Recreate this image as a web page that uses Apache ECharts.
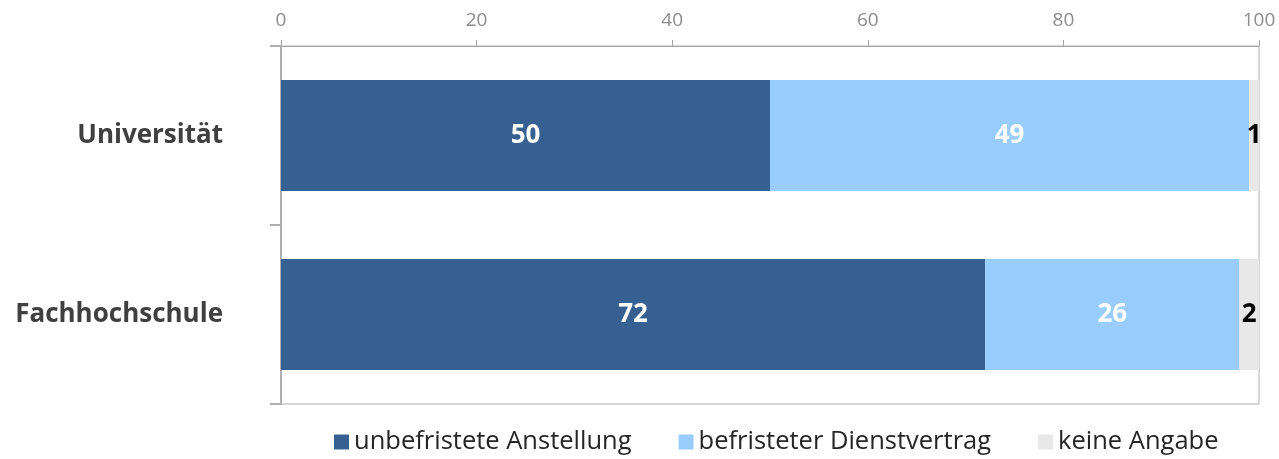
<!DOCTYPE html>
<html>
<head>
<meta charset="utf-8">
<script src="https://cdn.jsdelivr.net/npm/echarts@6/dist/echarts.min.js"></script>
<style>
html,body{margin:0;padding:0;background:#fff;}
#chart{width:1279px;height:459px;}
</style>
</head>
<body>
<div id="chart"></div>
<script>
const categories = ['Universität', 'Fachhochschule'];
const seriesNames = ['unbefristete Anstellung', 'befristeter Dienstvertrag', 'keine Angabe'];
const unbefristet = [50, 72];
const befristet = [49, 26];
const keineAngabe = [1, 2];
const xTicks = [0, 20, 40, 60, 80, 100];

const colors = ['#366092', '#99CCFF', '#E8E8E8'];
const labelColors = ['#ffffff', '#ffffff', '#000000'];
const values = [unbefristet, befristet, keineAngabe];
const FONT = '"Open Sans", "Liberation Sans", sans-serif';

const chart = echarts.init(document.getElementById('chart'), null, {renderer: 'canvas'});
chart.setOption({
  animation: false,
  textStyle: {fontFamily: FONT},
  grid: {left: 281, right: 20, top: 46, bottom: 55, show: true, borderColor: '#B0B0B0', borderWidth: 1},
  legend: {
    top: 424,
    left: 329,
    itemWidth: 15,
    itemHeight: 15,
    itemGap: 47,
    icon: 'rect',
    textStyle: {fontSize: 25.5, color: '#262626', fontFamily: FONT},
    data: seriesNames
  },
  xAxis: {
    type: 'value',
    position: 'top',
    min: xTicks[0],
    max: xTicks[xTicks.length - 1],
    interval: 20,
    axisLine: {show: true, lineStyle: {color: '#A6A6A6', width: 1}},
    axisTick: {show: true, length: 6, lineStyle: {color: '#A6A6A6'}},
    splitLine: {show: false},
    axisLabel: {color: '#8C8C8C', fontSize: 19, margin: 16, fontFamily: FONT}
  },
  yAxis: {
    type: 'category',
    inverse: true,
    data: categories,
    axisLine: {show: true, lineStyle: {color: '#B0B0B0', width: 2}},
    axisTick: {show: true, length: 11, lineStyle: {color: '#B0B0B0', width: 2}},
    axisLabel: {color: '#404040', fontSize: 26, fontWeight: 'bold', margin: 58, fontFamily: FONT}
  },
  series: seriesNames.map((name, i) => ({
    name: name,
    type: 'bar',
    stack: 'total',
    barWidth: '62%',
    itemStyle: {color: colors[i]},
    label: {
      show: true,
      position: 'inside',
      color: labelColors[i],
      fontSize: 26,
      fontWeight: 'bold',
      fontFamily: FONT
    },
    data: values[i]
  }))
});
</script>
</body>
</html>
